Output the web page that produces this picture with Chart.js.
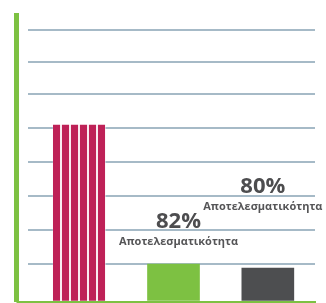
<!DOCTYPE html>
<html>
<head>
<meta charset="utf-8">
<script src="https://cdn.jsdelivr.net/npm/chart.js@4.4.1/dist/chart.umd.min.js"></script>
<style>
    html, body { margin: 0; padding: 0; background: #ffffff; }
    #wrap { width: 326px; height: 303px; position: relative; }
</style>
</head>
<body>
<div id="wrap"><canvas id="myChart"></canvas></div>
<script>
// bar data (units = one gridline step)
const categories = ["A", "B", "C"];
const barValues = [5.19, 1.1, 0.985];
const barColors = ["#be2157", "#7dc142", "#4d4e50"];

// horizontal gridlines (not evenly spaced from the base in the picture)
const gridTicks = [0, 1.1, 2.1, 3.1, 4.1, 5.1, 6.1, 7.05, 8.0];
const yMax = 8.43;

// text over the bars
const percentLabels = ["", "82%", "80%"];
const subLabels = ["", "Αποτελεσματικότητα", "Αποτελεσματικότητα"];

const green = "#7dc142";
const gridColor = "#a6bac7";

// striped fill for the first bar: 7px red, 2px light
const makeStripes = () => {
    const c = document.createElement("canvas");
    c.width = 9;
    c.height = 1;
    const g = c.getContext("2d");
    g.fillStyle = barColors[0];
    g.fillRect(0, 0, 9, 1);
    g.fillStyle = "#f9eaf0";
    g.fillRect(6, 0, 2, 1);
    return g.createPattern(c, "repeat");
};

const fills = barColors.map((col, i) => (i === 0 ? makeStripes() : col));

// where the two text blocks sit (x offset from bar centre, y in value units)
const labelPlacement = [
    null,
    { dx: 5, pctY: 2.16, subY: 1.66 },
    { dx: -5, pctY: 3.18, subY: 2.69 },
];

const barTextPlugin = {
    id: "barText",
    afterDatasetsDraw(chart) {
        const ctx = chart.ctx;
        const xs = chart.scales.x;
        const ys = chart.scales.y;
        ctx.save();
        ctx.textAlign = "center";
        ctx.textBaseline = "alphabetic";
        percentLabels.forEach((txt, i) => {
            const p = labelPlacement[i];
            if (!p) return;
            const cx = xs.getPixelForValue(i) + p.dx;
            ctx.fillStyle = "#4d4d4f";
            ctx.font = "bold 22px 'Open Sans'";
            ctx.fillText(txt, cx, ys.getPixelForValue(p.pctY));
            ctx.fillStyle = "#555557";
            ctx.font = "bold 11px 'Open Sans'";
            ctx.fillText(subLabels[i], cx, ys.getPixelForValue(p.subY));
        });
        ctx.restore();
    },
};

const ctx = document.getElementById("myChart").getContext("2d");

const myChart = new Chart(ctx, {
    type: "bar",
    data: {
        labels: categories,
        datasets: [
            {
                data: barValues,
                backgroundColor: fills,
                barThickness: 52,
                borderWidth: 0,
            },
        ],
    },
    options: {
        responsive: true,
        maintainAspectRatio: false,
        animation: false,
        events: [],
        layout: {
            padding: { left: 16.5, right: 11, top: 15, bottom: 1.5 },
        },
        plugins: {
            legend: { display: false },
            tooltip: { enabled: false },
        },
        scales: {
            x: {
                grid: { display: false, drawTicks: false },
                ticks: { display: false },
                border: { display: true, color: green, width: 2 },
            },
            y: {
                min: 0,
                max: yMax,
                weight: 0,
                afterBuildTicks: (axis) => {
                    axis.ticks = gridTicks.map((v) => ({ value: v }));
                },
                ticks: { display: false },
                border: { display: false },
                grid: {
                    color: (c) => (c.tick && c.tick.value === 0 ? green : gridColor),
                    lineWidth: 2,
                    drawTicks: true,
                    tickLength: 15.5,
                    tickWidth: 2,
                    tickColor: (c) => (c.tick && c.tick.value === 0 ? green : gridColor),
                    tickBorderDash: (c) => (c.tick && c.tick.value === 0 ? [] : [4, 11.5]),
                    tickBorderDashOffset: (c) => (c.tick && c.tick.value === 0 ? 0 : 4),
                },
            },
            yLeft: {
                type: "linear",
                position: "left",
                weight: 1,
                min: 0,
                max: yMax,
                ticks: { display: false },
                grid: { display: false, drawTicks: false },
                border: { display: true, color: green, width: 5 },
            },
        },
    },
    plugins: [barTextPlugin],
});
</script>
</body>
</html>
